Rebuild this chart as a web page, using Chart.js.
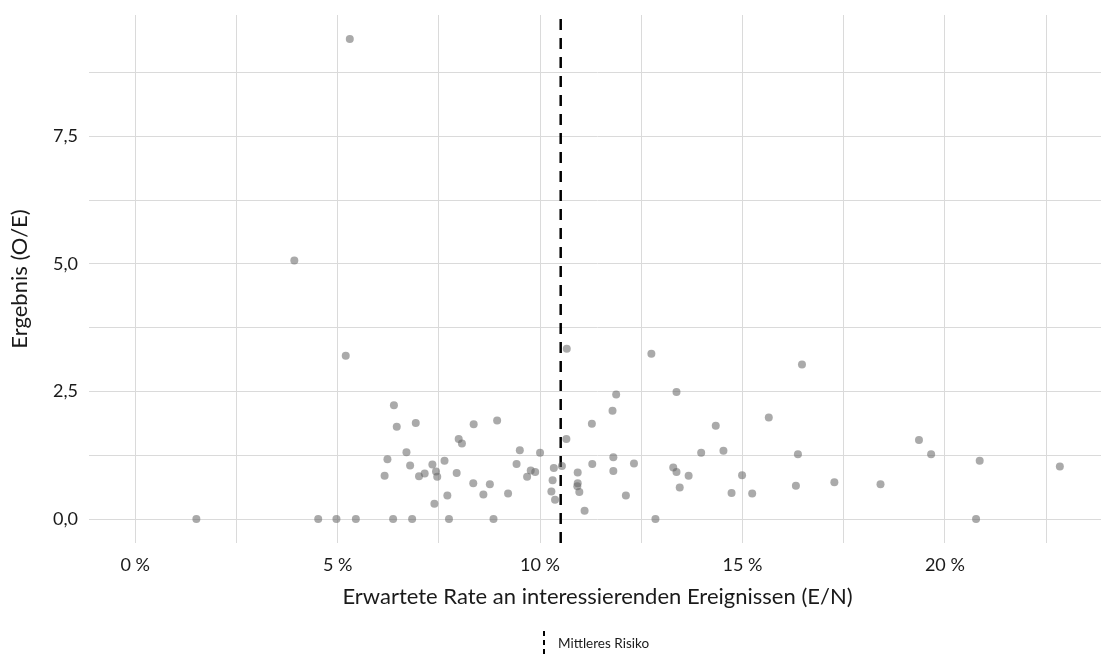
<!DOCTYPE html>
<html>
<head>
<meta charset="utf-8">
<script src="https://cdn.jsdelivr.net/npm/chart.js@4/dist/chart.umd.min.js"></script>
<style>
  html, body { margin: 0; padding: 0; background: #ffffff; overflow: hidden; }
  #wrap { width: 1110px; height: 671px; }
</style>
</head>
<body>
<div id="wrap"><canvas id="c" width="1110" height="671"></canvas></div>
<script>
// Expected event rate (E/N) in percent
const expectedRate = [
  1.51, 3.93, 4.52, 4.97, 5.20, 5.30, 5.45, 6.16, 6.23, 6.37,
  6.39, 6.46, 6.70, 6.79, 6.84, 6.93, 7.01, 7.15, 7.34, 7.39,
  7.43, 7.46, 7.64, 7.71, 7.75, 7.94, 7.99, 8.07, 8.35, 8.36,
  8.60, 8.76, 8.85, 8.94, 9.21, 9.42, 9.50, 9.68, 9.77, 9.88,
  10.00, 10.28, 10.31, 10.34, 10.37, 10.54, 10.65, 10.66, 10.92, 10.93,
  10.93, 10.97, 11.10, 11.28, 11.29, 11.79, 11.81, 11.81, 11.88, 12.12,
  12.32, 12.75, 12.85, 13.29, 13.37, 13.37, 13.45, 13.67, 13.98, 14.34,
  14.53, 14.73, 14.99, 15.24, 15.65, 16.32, 16.37, 16.47, 17.27, 18.41,
  19.36, 19.66, 20.77, 20.86, 22.84
];
// Outcome (O/E)
const outcomeRatio = [
  0.00, 5.07, 0.00, 0.00, 3.20, 9.41, 0.00, 0.85, 1.17, 0.00,
  2.23, 1.81, 1.31, 1.05, 0.00, 1.88, 0.84, 0.89, 1.07, 0.30,
  0.93, 0.83, 1.14, 0.46, 0.00, 0.90, 1.57, 1.48, 0.70, 1.86,
  0.48, 0.68, 0.00, 1.93, 0.50, 1.08, 1.35, 0.83, 0.95, 0.92,
  1.30, 0.54, 0.76, 1.00, 0.38, 1.04, 1.57, 3.34, 0.64, 0.91,
  0.70, 0.53, 0.16, 1.87, 1.08, 2.12, 1.21, 0.94, 2.44, 0.46,
  1.09, 3.24, 0.00, 1.01, 0.92, 2.49, 0.62, 0.85, 1.30, 1.83,
  1.34, 0.51, 0.86, 0.50, 1.99, 0.65, 1.27, 3.03, 0.72, 0.68,
  1.55, 1.27, 0.00, 1.14, 1.03
];
// Mean risk (vertical reference line), percent
const meanRisk = [10.51];

const xTickValues = [0, 5, 10, 15, 20];
const xTickLabels = ['0 %', '5 %', '10 %', '15 %', '20 %'];
const xMinorValues = [2.5, 7.5, 12.5, 17.5, 22.5];
const yTickValues = [0, 2.5, 5, 7.5];
const yTickLabels = ['0,0', '2,5', '5,0', '7,5'];
const yMinorValues = [1.25, 3.75, 6.25, 8.75];

const X_MIN = -1.142, X_MAX = 23.98;
const Y_MIN = -0.47, Y_MAX = 9.88;

const legendLabel = 'Mittleres Risiko';
const FONT = 'Lato, "Open Sans", sans-serif';

const points = expectedRate.map((x, i) => ({ x: x, y: outcomeRatio[i] }));

const legendPlugin = {
  id: 'manualLegend',
  afterDraw(chart) {
    const ctx = chart.ctx;
    ctx.save();
    ctx.strokeStyle = '#000000';
    ctx.lineWidth = 2;
    ctx.setLineDash([5, 4]);
    ctx.beginPath();
    ctx.moveTo(544, 631);
    ctx.lineTo(544, 655);
    ctx.stroke();
    ctx.setLineDash([]);
    ctx.fillStyle = '#1a1a1a';
    ctx.font = '13.5px ' + FONT;
    ctx.textAlign = 'left';
    ctx.textBaseline = 'middle';
    ctx.fillText(legendLabel, 558, 644);
    ctx.restore();
  }
};

new Chart(document.getElementById('c'), {
  type: 'scatter',
  data: {
    datasets: [
      {
        label: 'Einrichtungen',
        data: points,
        backgroundColor: 'rgba(100,100,100,0.55)',
        borderWidth: 0,
        pointRadius: 4,
        pointHoverRadius: 4
      },
      {
        type: 'line',
        label: legendLabel,
        data: [{ x: meanRisk[0], y: Y_MIN }, { x: meanRisk[0], y: Y_MAX }],
        borderColor: '#000000',
        borderWidth: 2.5,
        borderDash: [11, 8],
        pointRadius: 0,
        fill: false
      }
    ]
  },
  options: {
    responsive: false,
    animation: false,
    devicePixelRatio: 1,
    layout: { padding: { top: 15, right: 1, bottom: 51, left: 0 } },
    plugins: {
      legend: { display: false },
      tooltip: { enabled: false }
    },
    scales: {
      x: {
        type: 'linear',
        min: X_MIN,
        max: X_MAX,
        afterBuildTicks(scale) {
          scale.ticks = xTickValues.concat(xMinorValues).sort((a, b) => a - b).map(v => ({ value: v }));
        },
        afterFit(scale) {
          scale.height = 77;
          scale.paddingLeft = 0;
          scale.paddingRight = 0;
        },
        border: { display: false },
        grid: { color: '#dadada', lineWidth: 1, drawTicks: false },
        ticks: {
          padding: 11,
          color: '#1a1a1a',
          font: { family: FONT, size: 18 },
          maxRotation: 0,
          autoSkip: false,
          callback(value) {
            const i = xTickValues.indexOf(value);
            return i >= 0 ? xTickLabels[i] : '';
          }
        },
        title: {
          display: true,
          text: 'Erwartete Rate an interessierenden Ereignissen (E/N)',
          color: '#1a1a1a',
          font: { family: FONT, size: 22 },
          padding: { top: 0, bottom: 10 }
        }
      },
      y: {
        type: 'linear',
        min: Y_MIN,
        max: Y_MAX,
        afterBuildTicks(scale) {
          scale.ticks = yTickValues.concat(yMinorValues).sort((a, b) => a - b).map(v => ({ value: v }));
        },
        afterFit(scale) {
          scale.width = 89;
          scale.paddingTop = 0;
          scale.paddingBottom = 0;
        },
        border: { display: false },
        grid: { color: '#dadada', lineWidth: 1, drawTicks: false },
        ticks: {
          padding: 11,
          color: '#1a1a1a',
          font: { family: FONT, size: 18 },
          autoSkip: false,
          callback(value) {
            const i = yTickValues.indexOf(value);
            return i >= 0 ? yTickLabels[i] : '';
          }
        },
        title: {
          display: true,
          text: 'Ergebnis (O/E)',
          color: '#1a1a1a',
          font: { family: FONT, size: 22 },
          padding: { top: 7, bottom: 0 }
        }
      }
    }
  },
  plugins: [legendPlugin]
});
</script>
</body>
</html>
